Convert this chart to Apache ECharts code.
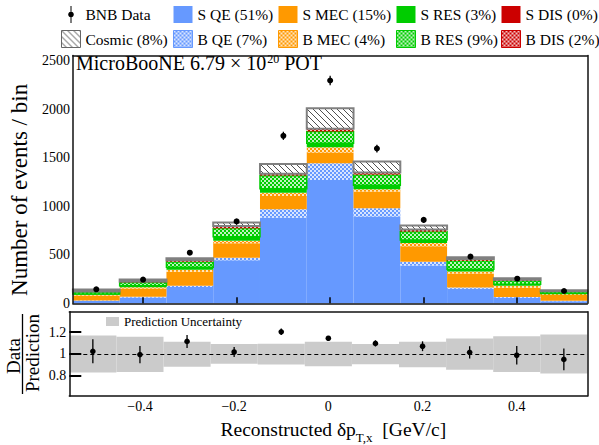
<!DOCTYPE html>
<html><head><meta charset="utf-8">
<script src="https://cdn.jsdelivr.net/npm/echarts@6/dist/echarts.min.js"></script>
<style>html,body{margin:0;padding:0;background:#fff}#c{width:599px;height:445px}</style>
</head><body><div id="c"></div>
<script>
// ---------------- data ----------------
const binCenters = [-0.5, -0.4, -0.3, -0.2, -0.1, 0, 0.1, 0.2, 0.3, 0.4, 0.5];
const binWidth = 0.1;
const xTicks = [-0.4, -0.2, 0, 0.2, 0.4];
const yTicks = [0, 500, 1000, 1500, 2000, 2500];
const ratioTicks = [0.8, 1, 1.2];

const sQE    = [25, 60, 168, 445, 883, 1272, 894, 390, 150, 58, 22];
const bQE    = [5, 8, 12, 25, 87, 173, 86, 38, 12, 8, 4];
const sMEC   = [50, 85, 145, 150, 137, 109, 172, 160, 145, 95, 60];
const bMEC   = [8, 12, 22, 24, 34, 56, 24, 35, 20, 20, 10];
const sRES   = [8, 15, 25, 41, 40, 40, 40, 30, 25, 15, 6];
const bRES   = [20, 35, 55, 86, 135, 121, 108, 85, 85, 35, 16];
const sDIS   = [0, 1, 2, 3, 3, 5, 4, 2, 2, 1, 0];
const bDIS   = [6, 10, 16, 24, 17, 23, 20, 20, 18, 10, 5];
const cosmic = [19, 19, 20, 35, 100, 213, 113, 43, 17, 15, 11];

const bnbData   = [144, 244, 522, 844, 1727, 2297, 1596, 860, 481, 254, 127];
const bnbErr    = [12, 16, 23, 29, 42, 48, 40, 29, 22, 16, 11];

const ratio     = [1.024, 0.994, 1.115, 1.018, 1.203, 1.144, 1.097, 1.071, 1.015, 0.988, 0.95];
const ratioErr  = [0.11, 0.08, 0.06, 0.045, 0.03, 0.022, 0.028, 0.045, 0.056, 0.084, 0.10];
const bandHigh  = [1.17, 1.159, 1.112, 1.091, 1.094, 1.112, 1.091, 1.112, 1.141, 1.162, 1.179];
const bandLow   = [0.83, 0.835, 0.882, 0.909, 0.903, 0.888, 0.906, 0.879, 0.856, 0.835, 0.821];

// ---------------- styles ----------------
const FONT = 'Liberation Serif';
const C_QE = '#6699ff', C_MEC = '#ff9900', C_RES = '#00cc00', C_DIS = '#cc0000';

function checker(color) {
  const c = document.createElement('canvas'); c.width = 4; c.height = 4;
  const g = c.getContext('2d');
  g.fillStyle = color; g.fillRect(0, 0, 4, 4);
  g.fillStyle = 'rgba(255,255,255,0.75)';
  g.fillRect(0, 0, 2, 2); g.fillRect(2, 2, 2, 2);
  return { image: c, repeat: 'repeat', imageWidth: 4, imageHeight: 4 };
}
function hatch() {
  const c = document.createElement('canvas'); c.width = 6; c.height = 6;
  const g = c.getContext('2d');
  g.fillStyle = '#fff'; g.fillRect(0, 0, 6, 6);
  g.strokeStyle = '#505050'; g.lineWidth = 1;
  g.beginPath();
  g.moveTo(-1, -1); g.lineTo(7, 7);
  g.moveTo(5, -1); g.lineTo(7, 1);
  g.moveTo(-1, 5); g.lineTo(1, 7);
  g.stroke();
  return { image: c, repeat: 'repeat', imageWidth: 6, imageHeight: 6 };
}

const components = [
  { name: 'S QE (51%)',  vals: sQE,    fill: C_QE },
  { name: 'B QE (7%)',   vals: bQE,    fill: checker(C_QE), legendBorder: C_QE },
  { name: 'S MEC (15%)', vals: sMEC,   fill: C_MEC },
  { name: 'B MEC (4%)',  vals: bMEC,   fill: checker(C_MEC), legendBorder: C_MEC },
  { name: 'S RES (3%)',  vals: sRES,   fill: C_RES },
  { name: 'B RES (9%)',  vals: bRES,   fill: checker(C_RES), stroke: C_RES, lw: 1.5, legendBorder: C_RES },
  { name: 'S DIS (0%)',  vals: sDIS,   fill: C_DIS },
  { name: 'B DIS (2%)',  vals: bDIS,   fill: checker(C_DIS), legendBorder: C_DIS },
  { name: 'Cosmic (8%)', vals: cosmic, fill: hatch(), stroke: '#808080', lw: 2, legendBorder: '#666' }
];

// ---------------- series ----------------
function binRenderer(fill, stroke, lw) {
  return function (params, api) {
    const x = api.value(0), y0 = api.value(1), y1 = api.value(2);
    const p0 = api.coord([x - binWidth / 2, y1]);
    const p1 = api.coord([x + binWidth / 2, y0]);
    return {
      type: 'rect',
      shape: { x: p0[0], y: p0[1], width: p1[0] - p0[0], height: p1[1] - p0[1] },
      style: { fill: fill, stroke: stroke || null, lineWidth: stroke ? lw : 0 }
    };
  };
}
function pointRenderer(r) {
  return function (params, api) {
    const x = api.value(0), y = api.value(1), e = api.value(2);
    const pc = api.coord([x, y]), pt = api.coord([x, y + e]), pb = api.coord([x, y - e]);
    return {
      type: 'group', children: [
        { type: 'line', shape: { x1: pc[0], y1: pt[1], x2: pc[0], y2: pb[1] }, style: { stroke: '#000', lineWidth: 1.3 } },
        { type: 'circle', shape: { cx: pc[0], cy: pc[1], r: r }, style: { fill: '#000' } }
      ]
    };
  };
}

const series = [];
const cum = binCenters.map(() => 0);
components.forEach(comp => {
  const d = binCenters.map((x, i) => {
    const lo = cum[i]; cum[i] += comp.vals[i];
    return [x, lo, cum[i]];
  });
  series.push({
    type: 'custom', name: comp.name, xAxisIndex: 0, yAxisIndex: 0, z: 2,
    itemStyle: { color: comp.fill },
    encode: { x: 0, y: [1, 2] },
    renderItem: binRenderer(comp.fill, comp.stroke, comp.lw),
    data: d
  });
});
series.push({
  type: 'custom', name: 'BNB Data', xAxisIndex: 0, yAxisIndex: 0, z: 5,
  itemStyle: { color: '#000' },
  encode: { x: 0, y: 1 },
  renderItem: pointRenderer(3),
  data: binCenters.map((x, i) => [x, bnbData[i], bnbErr[i]])
});
series.push({
  type: 'custom', name: 'Prediction Uncertainty', xAxisIndex: 1, yAxisIndex: 1, z: 2,
  itemStyle: { color: '#cbcbcb' },
  encode: { x: 0, y: [1, 2] },
  renderItem: binRenderer('#cbcbcb'),
  data: binCenters.map((x, i) => [x, bandLow[i], bandHigh[i]]),
  markLine: {
    silent: true, symbol: 'none', z: 3,
    label: { show: false },
    lineStyle: { color: '#000', width: 1, type: [4, 3] },
    data: [{ yAxis: 1 }]
  }
});
series.push({
  type: 'custom', name: 'Ratio', xAxisIndex: 1, yAxisIndex: 1, z: 5,
  encode: { x: 0, y: 1 },
  renderItem: pointRenderer(2.8),
  data: binCenters.map((x, i) => [x, ratio[i], ratioErr[i]])
});

// ---------------- axes ----------------
const AXC = '#111';
const labelStyle = { fontFamily: FONT, fontSize: 14, color: '#000' };
function frameAxis(extra) {
  return Object.assign({
    type: 'value', z: 10, axisLine: { show: true, onZero: false, lineStyle: { color: AXC, width: 1.5 } },
    axisTick: { show: false }, axisLabel: { show: false }, splitLine: { show: false }
  }, extra);
}

const legendText = { fontFamily: FONT, fontSize: 15.5, color: '#000' };
function colLegend(left, names, styles) {
  return {
    left: left, top: 6, orient: 'vertical', padding: 0, itemGap: 7,
    itemWidth: 19, itemHeight: 17, selectedMode: false, textStyle: legendText,
    data: names.map((n, i) => Object.assign({ name: n }, styles[i]))
  };
}
const st = {};
components.forEach(c => {
  st[c.name] = { icon: 'rect', itemStyle: { color: c.fill, borderColor: c.legendBorder || 'transparent', borderWidth: c.legendBorder ? 1 : 0 } };
});
st['BNB Data'] = { icon: 'path://M2.5,0H3.5V17H2.5Z M3,5.7A2.8,2.8 0 1 1 2.99,5.7Z', itemStyle: { color: '#000' } };

const option = {
  animation: false,
  backgroundColor: '#fff',
  textStyle: { fontFamily: FONT },
  grid: [
    { left: 69.3, top: 55.5, right: 11.6, height: 247.8 },
    { left: 69.3, top: 311.7, right: 11.6, height: 87.3 }
  ],
  title: {
    left: 76, top: 53, padding: 0,
    text: 'MicroBooNE 6.79 × 10{sup|20} POT',
    textStyle: {
      fontFamily: FONT, fontSize: 20, fontWeight: 'normal', color: '#000',
      rich: { sup: { fontFamily: FONT, fontSize: 12, verticalAlign: 'top', lineHeight: 12, padding: [0, 0, 0, 1] } }
    }
  },
  legend: [
    colLegend(61, ['BNB Data', 'Cosmic (8%)'], [st['BNB Data'], st['Cosmic (8%)']]),
    colLegend(173, ['S QE (51%)', 'B QE (7%)'], [st['S QE (51%)'], st['B QE (7%)']]),
    colLegend(278, ['S MEC (15%)', 'B MEC (4%)'], [st['S MEC (15%)'], st['B MEC (4%)']]),
    colLegend(396, ['S RES (3%)', 'B RES (9%)'], [st['S RES (3%)'], st['B RES (9%)']]),
    colLegend(501, ['S DIS (0%)', 'B DIS (2%)'], [st['S DIS (0%)'], st['B DIS (2%)']]),
    {
      left: 106, top: 315, padding: 0, itemWidth: 13, itemHeight: 9, selectedMode: false,
      textStyle: { fontFamily: FONT, fontSize: 13, color: '#000' },
      data: [{ name: 'Prediction Uncertainty', icon: 'rect', itemStyle: { color: '#cbcbcb' } }]
    }
  ],
  xAxis: [
    {
      type: 'value', gridIndex: 0, min: -0.55, max: 0.55, z: 10,
      axisLine: { show: true, onZero: false, lineStyle: { color: AXC, width: 1.5 } },
      axisTick: { show: true, inside: true, length: 6, customValues: xTicks, lineStyle: { color: '#000', width: 1.5 } },
      axisLabel: { show: false }, splitLine: { show: false }
    },
    {
      type: 'value', gridIndex: 1, min: -0.55, max: 0.55, z: 10,
      axisLine: { show: true, onZero: false, lineStyle: { color: AXC, width: 1.5 } },
      axisTick: { show: false },
      axisLabel: Object.assign({ customValues: xTicks, margin: 3, formatter: v => (v < 0 ? '\u2212' : '') + Math.abs(v) }, labelStyle),
      splitLine: { show: false },
      name: 'Reconstructed \u03b4p{sub|T,x}  [GeV/c]', nameLocation: 'middle', nameGap: 12,
      nameTextStyle: {
        fontFamily: FONT, fontSize: 19.5, color: '#000', lineHeight: 30, padding: [0, 0, 0, 10],
        rich: { sub: { fontFamily: FONT, fontSize: 13, verticalAlign: 'bottom', lineHeight: 13, color: '#000' } }
      }
    },
    frameAxis({ gridIndex: 0, position: 'top', min: -0.55, max: 0.55 }),
    frameAxis({ gridIndex: 1, position: 'top', min: -0.55, max: 0.55 })
  ],
  yAxis: [
    {
      type: 'value', gridIndex: 0, min: 0, max: 2555, z: 10,
      axisLine: { show: true, onZero: false, lineStyle: { color: AXC, width: 1.5 } },
      axisTick: { show: false },
      axisLabel: Object.assign({ customValues: yTicks, margin: 3, formatter: v => String(v) }, labelStyle),
      splitLine: { show: false },
      name: 'Number of events / bin', nameLocation: 'middle', nameGap: 36, nameRotate: 90,
      nameTextStyle: { fontFamily: FONT, fontSize: 23, color: '#000', padding: [0, 21, 0, 0] }
    },
    {
      type: 'value', gridIndex: 1, min: 0.613, max: 1.388, z: 10,
      axisLine: { show: true, onZero: false, lineStyle: { color: AXC, width: 1.5 } },
      axisTick: { show: true, inside: true, length: 12, customValues: ratioTicks, lineStyle: { color: '#000', width: 2 } },
      axisLabel: Object.assign({ customValues: ratioTicks, margin: 3, formatter: v => String(v) }, labelStyle),
      splitLine: { show: false }
    },
    frameAxis({ gridIndex: 0, position: 'right', min: 0, max: 2555 }),
    frameAxis({ gridIndex: 1, position: 'right', min: 0.613, max: 1.388 })
  ],
  graphic: [
    { type: 'text', x: 13, y: 356, rotation: Math.PI / 2, z: 20,
      style: { text: 'Data', font: '19px ' + FONT, fill: '#000', textAlign: 'center', textVerticalAlign: 'middle' } },
    { type: 'line', z: 20, shape: { x1: 22.5, y1: 314, x2: 22.5, y2: 394 }, style: { stroke: '#000', lineWidth: 1.3 } },
    { type: 'text', x: 32.5, y: 353, rotation: Math.PI / 2, z: 20,
      style: { text: 'Prediction', font: '19px ' + FONT, fill: '#000', textAlign: 'center', textVerticalAlign: 'middle' } }
  ],
  series: series
};

const chart = echarts.init(document.getElementById('c'), null, { renderer: 'svg', width: 599, height: 445 });
chart.setOption(option);
</script>
</body></html>
